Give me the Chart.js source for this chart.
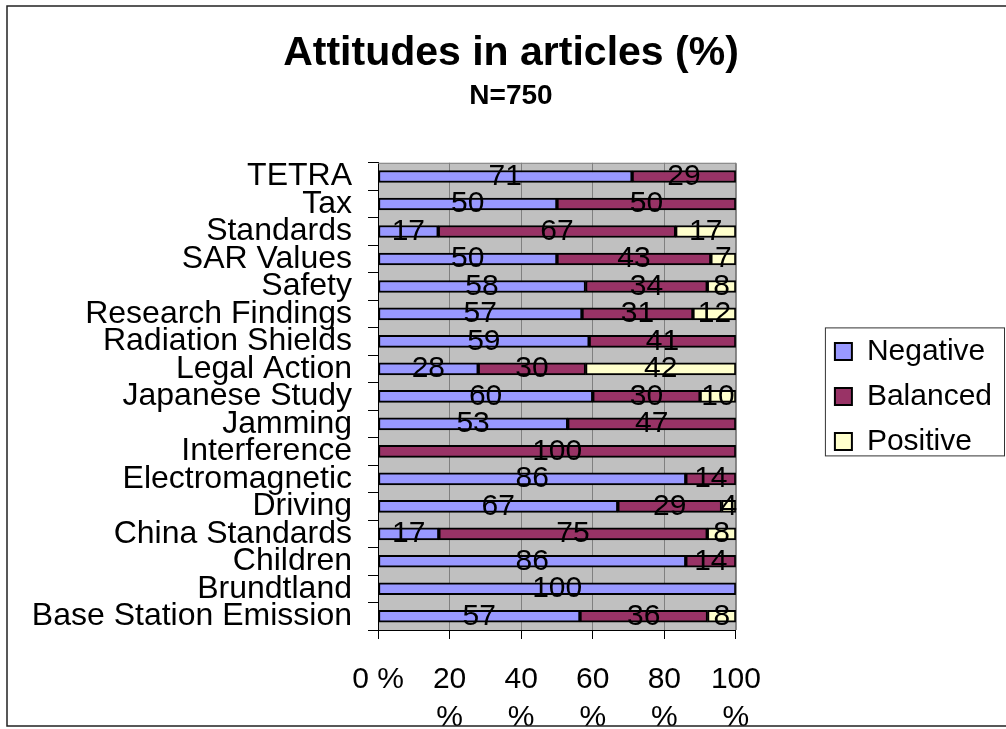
<!DOCTYPE html>
<html>
<head>
<meta charset="utf-8">
<script src="https://cdn.jsdelivr.net/npm/chart.js@4/dist/chart.umd.min.js"></script>
<style>
  html, body { margin: 0; padding: 0; background: #fff; }
  #wrap { width: 1006px; height: 729px; }
</style>
</head>
<body>
<div id="wrap"><canvas id="chart" width="1006" height="729"></canvas></div>
<script>
const categories = [
    'TETRA', 'Tax', 'Standards', 'SAR Values', 'Safety', 'Research Findings',
    'Radiation Shields', 'Legal Action', 'Japanese Study', 'Jamming',
    'Interference', 'Electromagnetic', 'Driving', 'China Standards',
    'Children', 'Brundtland', 'Base Station Emission'
];
const negative = [71, 50, 17, 50, 58, 57, 59, 28, 60, 53, 0, 86, 67, 17, 86, 100, 57];
const balanced = [29, 50, 67, 43, 34, 31, 41, 30, 30, 47, 100, 14, 29, 75, 14, 0, 36];
const positive = [0, 0, 17, 7, 8, 12, 0, 42, 10, 0, 0, 0, 4, 8, 0, 0, 8];
const xTicks = [0, 20, 40, 60, 80, 100];

const FONT = "'Liberation Sans', Arial, sans-serif";

// 100% stacked: each row is scaled to its own total, labels keep the raw numbers
const totals = categories.map((c, i) => negative[i] + balanced[i] + positive[i]);
function share(arr) {
    return arr.map((v, i) => v / totals[i] * 100);
}

const series = [
    {label: 'Negative', raw: negative, color: '#9999ff'},
    {label: 'Balanced', raw: balanced, color: '#993366'},
    {label: 'Positive', raw: positive, color: '#ffffcc'}
];

const frame = {
    id: 'frame',
    beforeDraw(chart) {
        const {ctx, chartArea: a} = chart;
        ctx.save();
        ctx.fillStyle = '#c0c0c0';
        ctx.fillRect(a.left, a.top, a.right - a.left, a.bottom - a.top);
        ctx.restore();
    },
    beforeDatasetsDraw(chart) {
        const {ctx, chartArea: a} = chart;
        ctx.save();
        ctx.strokeStyle = '#808080';
        ctx.lineWidth = 1;
        ctx.beginPath();
        ctx.moveTo(a.left, a.top + 0.5);
        ctx.lineTo(a.right + 0.5, a.top + 0.5);
        ctx.lineTo(a.right + 0.5, a.bottom);
        ctx.stroke();
        ctx.restore();
    },
    afterDraw(chart) {
        const ctx = chart.ctx;
        ctx.save();
        // outer chart border
        ctx.strokeStyle = '#222';
        ctx.lineWidth = 1.5;
        ctx.beginPath();
        ctx.moveTo(chart.width + 5, 6);
        ctx.lineTo(7, 6);
        ctx.lineTo(7, 726);
        ctx.lineTo(chart.width + 5, 726);
        ctx.stroke();
        // legend border
        const boxes = chart.legend.legendHitBoxes;
        if (boxes && boxes.length) {
            const first = boxes[0];
            const last = boxes[boxes.length - 1];
            const left = first.left - 10;
            const top = first.top - 9;
            const bottom = last.top + last.height - 1;
            ctx.strokeStyle = '#333';
            ctx.lineWidth = 1;
            ctx.strokeRect(left + 0.5, top + 0.5, chart.width - 2 - left, bottom - top);
        }
        ctx.restore();
    }
};

const valueLabels = {
    id: 'valueLabels',
    afterDatasetsDraw(chart) {
        const ctx = chart.ctx;
        ctx.save();
        ctx.font = '30px ' + FONT;
        ctx.fillStyle = '#000';
        ctx.textAlign = 'center';
        ctx.textBaseline = 'middle';
        chart.data.datasets.forEach((ds, di) => {
            const meta = chart.getDatasetMeta(di);
            meta.data.forEach((bar, i) => {
                const v = series[di].raw[i];
                if (!v) return;
                ctx.fillText(String(v), (bar.x + bar.base) / 2, bar.y);
            });
        });
        ctx.restore();
    }
};

new Chart(document.getElementById('chart').getContext('2d'), {
    type: 'bar',
    data: {
        labels: categories,
        datasets: series.map(s => ({
            label: s.label,
            data: share(s.raw),
            backgroundColor: s.color,
            borderColor: '#000',
            borderWidth: 2,
            borderSkipped: false,
            barThickness: 12
        }))
    },
    options: {
        indexAxis: 'y',
        responsive: false,
        animation: false,
        layout: {
            padding: {left: 20, right: 4, top: 0, bottom: 0}
        },
        scales: {
            x: {
                stacked: true,
                min: 0,
                max: 100,
                afterBuildTicks: scale => {
                    scale.ticks = xTicks.map(v => ({value: v}));
                },
                afterFit: scale => {
                    scale.height = 99;
                },
                grid: {
                    color: '#808080',
                    tickColor: '#000',
                    tickLength: 9
                },
                border: {color: '#000', width: 1},
                ticks: {
                    color: '#000',
                    padding: 22,
                    maxRotation: 0,
                    autoSkip: false,
                    font: {family: FONT, size: 30, lineHeight: 1.27},
                    callback: v => v === 0 ? '0 %' : [String(v), '%']
                }
            },
            y: {
                stacked: true,
                afterFit: scale => {
                    scale.width = 358;
                },
                grid: {
                    drawOnChartArea: false,
                    tickColor: '#000',
                    tickLength: 10,
                    offset: true
                },
                border: {color: '#000', width: 1},
                ticks: {
                    color: '#000',
                    padding: 16,
                    autoSkip: false,
                    font: {family: FONT, size: 32}
                }
            },
            gap: {
                type: 'linear',
                position: 'right',
                display: true,
                grid: {display: false},
                border: {display: false},
                ticks: {display: false},
                afterFit: scale => {
                    scale.width = 84;
                }
            }
        },
        plugins: {
            title: {
                display: true,
                text: 'Attitudes in articles (%)',
                color: '#000',
                font: {family: FONT, size: 41, weight: 'bold', lineHeight: 1.2},
                padding: {top: 29, bottom: 0}
            },
            subtitle: {
                display: true,
                text: 'N=750',
                color: '#000',
                font: {family: FONT, size: 28, weight: 'bold', lineHeight: 1.2},
                padding: {top: 1, bottom: 50}
            },
            legend: {
                position: 'right',
                fullSize: false,
                maxWidth: 220,
                labels: {
                    color: '#000',
                    boxWidth: 17,
                    boxHeight: 17,
                    padding: 15,
                    font: {family: FONT, size: 30}
                }
            },
            tooltip: {enabled: false}
        }
    },
    plugins: [frame, valueLabels]
});
</script>
</body>
</html>
